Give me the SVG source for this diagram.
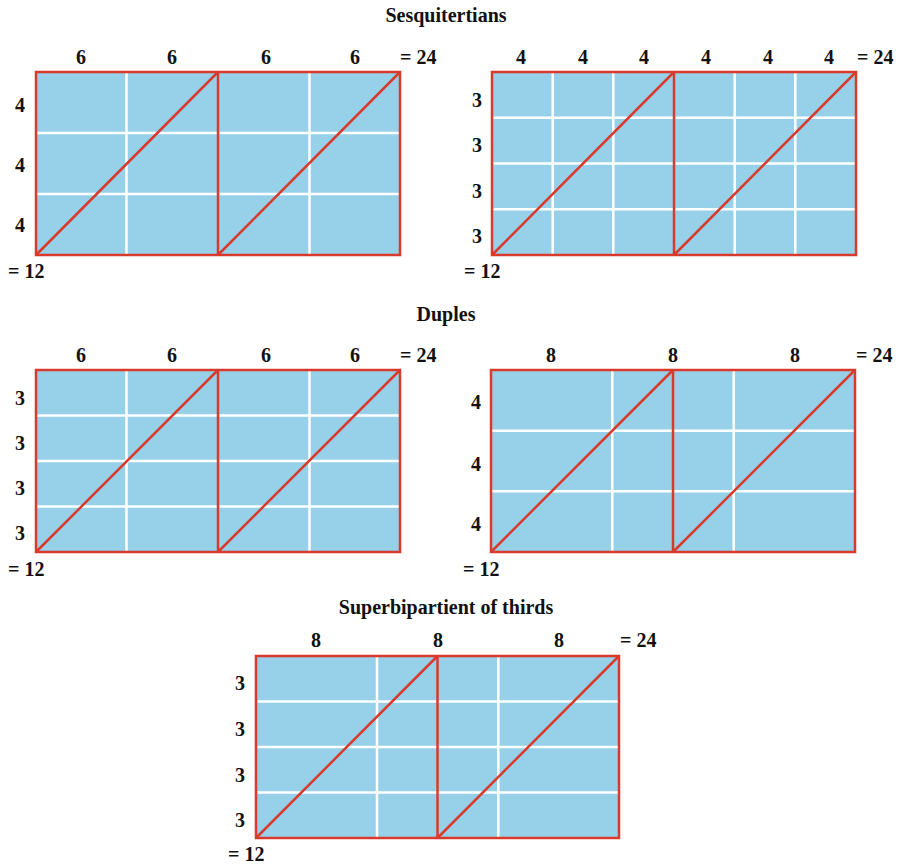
<svg xmlns="http://www.w3.org/2000/svg" width="900" height="864" viewBox="0 0 900 864">
<style>
text{font-family:"Liberation Serif","Times New Roman",serif;font-weight:bold;font-size:20px;fill:#111}
.t{text-anchor:middle}
.m{text-anchor:middle}
.bg{fill:#97d0e9}
.g{stroke:#fff;stroke-width:2.5;fill:none}
.r{stroke:#d93a2b;stroke-width:2.5;fill:none}
</style>
<rect width="900" height="864" fill="#fff"/>
<text class="t" x="446" y="22">Sesquitertians</text>
<text class="t" x="446" y="321">Duples</text>
<text class="t" x="446" y="614">Superbipartient of thirds</text>

<g id="panel1">
<rect class="bg" x="36" y="72" width="364" height="183"/>
<path class="g" d="M126.5 72V255M309.5 72V255M36 133H400M36 194H400"/>
<rect class="r" x="36" y="72" width="364" height="183"/>
<path class="r" d="M218 72V255M36 255L218 72M218 255L400 72"/>
<text class="m" x="81" y="64">6</text><text class="m" x="172" y="64">6</text><text class="m" x="266" y="64">6</text><text class="m" x="355" y="64">6</text>
<text x="400" y="64">= 24</text>
<text class="m" x="20" y="112">4</text><text class="m" x="20" y="172">4</text><text class="m" x="20" y="232">4</text>
<text x="8" y="278">= 12</text>
</g>

<g id="panel2">
<rect class="bg" x="492" y="72" width="364" height="183"/>
<path class="g" d="M552.7 72V255M613.3 72V255M734.7 72V255M795.3 72V255M492 117.75H856M492 163.5H856M492 209.25H856"/>
<rect class="r" x="492" y="72" width="364" height="183"/>
<path class="r" d="M674 72V255M492 255L674 72M674 255L856 72"/>
<text class="m" x="521" y="64">4</text><text class="m" x="583" y="64">4</text><text class="m" x="644" y="64">4</text><text class="m" x="706" y="64">4</text><text class="m" x="768" y="64">4</text><text class="m" x="829" y="64">4</text>
<text x="857" y="64">= 24</text>
<text class="m" x="477" y="107">3</text><text class="m" x="477" y="152">3</text><text class="m" x="477" y="198">3</text><text class="m" x="477" y="243">3</text>
<text x="464" y="278">= 12</text>
</g>

<g id="panel3">
<rect class="bg" x="36" y="370" width="364" height="182"/>
<path class="g" d="M126.5 370V552M309.5 370V552M36 415.5H400M36 461H400M36 506.5H400"/>
<rect class="r" x="36" y="370" width="364" height="182"/>
<path class="r" d="M218 370V552M36 552L218 370M218 552L400 370"/>
<text class="m" x="81" y="362">6</text><text class="m" x="172" y="362">6</text><text class="m" x="266" y="362">6</text><text class="m" x="355" y="362">6</text>
<text x="400" y="362">= 24</text>
<text class="m" x="20" y="405">3</text><text class="m" x="20" y="450">3</text><text class="m" x="20" y="495">3</text><text class="m" x="20" y="540">3</text>
<text x="8" y="576">= 12</text>
</g>

<g id="panel4">
<rect class="bg" x="491" y="370" width="364" height="182"/>
<path class="g" d="M612.3 370V552M733.7 370V552M491 430.7H855M491 491.3H855"/>
<rect class="r" x="491" y="370" width="364" height="182"/>
<path class="r" d="M673 370V552M491 552L673 370M673 552L855 370"/>
<text class="m" x="551" y="362">8</text><text class="m" x="673" y="362">8</text><text class="m" x="795" y="362">8</text>
<text x="856" y="362">= 24</text>
<text class="m" x="476" y="409">4</text><text class="m" x="476" y="471">4</text><text class="m" x="476" y="531">4</text>
<text x="463" y="576">= 12</text>
</g>

<g id="panel5">
<rect class="bg" x="256" y="656" width="363" height="182"/>
<path class="g" d="M377 656V838M498.3 656V838M256 701.5H619M256 747H619M256 792.5H619"/>
<rect class="r" x="256" y="656" width="363" height="182"/>
<path class="r" d="M437.5 656V838M256 838L437.5 656M437.5 838L619 656"/>
<text class="m" x="316" y="647">8</text><text class="m" x="438" y="647">8</text><text class="m" x="559" y="647">8</text>
<text x="620" y="647">= 24</text>
<text class="m" x="240" y="690">3</text><text class="m" x="240" y="736">3</text><text class="m" x="240" y="782">3</text><text class="m" x="240" y="827">3</text>
<text x="228" y="861">= 12</text>
</g>
</svg>
